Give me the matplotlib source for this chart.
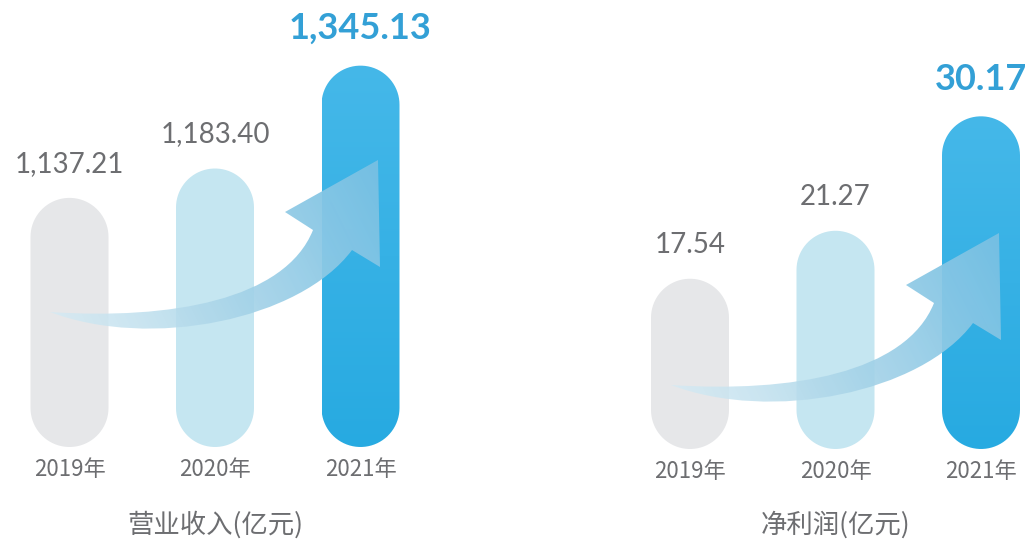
import numpy as np
import matplotlib.pyplot as plt
from matplotlib.patches import Polygon, PathPatch
from matplotlib.path import Path
from matplotlib.colors import LinearSegmentedColormap

# data
years = ['2019年', '2020年', '2021年']
revenue = [1137.21, 1183.40, 1345.13]
revenue_labels = ['1,137.21', '1,183.40', '1,345.13']
profit = [17.54, 21.27, 30.17]
profit_labels = ['17.54', '21.27', '30.17']

W, H = 1029, 540
fig = plt.figure(figsize=(W / 100, H / 100), dpi=100)
fig.patch.set_facecolor('white')

cjk = ['Noto Sans CJK SC', 'DejaVu Sans']
gray_txt = '#6d6e71'
blue_txt = '#33a0d6'
bar_cols = ['#e6e7e9', '#c5e6f1']
bar_cmap = LinearSegmentedColormap.from_list('b', ['#27aae1', '#45b8e9'])
step = 145.5   # px between bar centres


def pill(xc, y0, y1, half_w, ry):
    # outline of a bar with fully rounded ends
    a = np.linspace(0, np.pi, 40)
    top = np.column_stack([xc + half_w * np.cos(a), y1 - ry + ry * np.sin(a)])
    bot = np.column_stack([xc - half_w * np.cos(a), y0 + ry - ry * np.sin(a)])
    return np.vstack([top, bot])


def panel(left_px, base_px, vmin, k, values, labels, title, title_x):
    # k = pixels per data unit on the y axis, vmin = value at the baseline
    ax = fig.add_axes([left_px / W, (H - base_px) / H, 3 * step / W, base_px / H])
    ax.patch.set_alpha(0)
    bw = 78 / step
    ry = 39 / k
    for i, v in enumerate(values):
        pts = pill(i, vmin, v, bw / 2, ry)
        if i < 2:
            ax.add_patch(Polygon(pts, closed=True, fc=bar_cols[i], ec='none'))
            ax.annotate(labels[i], (i, v), xytext=(0, 34), textcoords='offset pixels',
                        ha='center', va='center', fontsize=20, color=gray_txt,
                        family='Lato')
        else:
            p = Polygon(pts, closed=True, fc='none', ec='none')
            ax.add_patch(p)
            grad = np.linspace(0, 1, 256).reshape(-1, 1)
            im = ax.imshow(grad, extent=(i - bw / 2, i + bw / 2, vmin, v), origin='lower',
                           aspect='auto', cmap=bar_cmap)
            im.set_clip_path(p)
            ax.annotate(labels[i], (i, v), xytext=(0, 37), textcoords='offset pixels',
                        ha='center', va='center', fontsize=26, color=blue_txt,
                        family='Lato', fontweight='bold')
        ax.annotate(years[i], (i, vmin), xytext=(0, -22), textcoords='offset pixels',
                    ha='center', va='center', fontsize=16, color=gray_txt, family=cjk)
    ax.set_xlim(-0.4, 2.6)
    ax.set_ylim(vmin, vmin + base_px / k)
    ax.axis('off')
    fig.text(title_x / W, 1 - 525 / H, title, ha='center', va='center',
             fontsize=19, color=gray_txt, family=cjk)


panel(11.3, 447, 745.5, 0.636, revenue, revenue_labels, '营业收入(亿元)', 215)
panel(631.8, 449, 4.30, 12.86, profit, profit_labels, '净利润(亿元)', 836)

# decorative growth arrows, drawn in figure pixel coordinates
deco = fig.add_axes([0, 0, 1, 1])
deco.axis('off')
deco.patch.set_alpha(0)


def arrow(dx, dy):
    verts = [(50, 312), (170, 320), (285, 300), (313, 230),
             (285, 212), (378, 160), (380, 267), (352, 250),
             (300, 320), (150, 350), (50, 312)]
    codes = [Path.MOVETO, Path.CURVE4, Path.CURVE4, Path.CURVE4,
             Path.LINETO, Path.LINETO, Path.LINETO, Path.LINETO,
             Path.CURVE4, Path.CURVE4, Path.CURVE4]
    verts = [(x + dx, y + dy) for x, y in verts]
    p = PathPatch(Path(verts, codes), fc='none', ec='none')
    deco.add_patch(p)
    xs = np.linspace(50, 380, 200)
    ys = np.linspace(155, 350, 120)
    X, Y = np.meshgrid(xs, ys)
    t = np.clip(((X - 50) + (350 - Y) * 0.5) / 420, 0, 1)
    c0 = np.array([218, 237, 245]) / 255
    c1 = np.array([166, 211, 232]) / 255
    c2 = np.array([118, 192, 227]) / 255
    img = np.zeros(X.shape + (4,))
    lo = t < 0.5
    s = (t / 0.5)[..., None]
    img[..., :3] = np.where(lo[..., None], c0 + (c1 - c0) * s, c1 + (c2 - c1) * (s - 1))
    img[..., 3] = 0.8 + 0.18 * t
    im = deco.imshow(img, extent=(50 + dx, 380 + dx, 350 + dy, 155 + dy),
                     origin='upper', aspect='auto', interpolation='bilinear')
    im.set_clip_path(p)


arrow(0, 0)
arrow(621, 73)
deco.set_xlim(0, W)
deco.set_ylim(H, 0)

fig.savefig('out.png', dpi=100, facecolor='white')
